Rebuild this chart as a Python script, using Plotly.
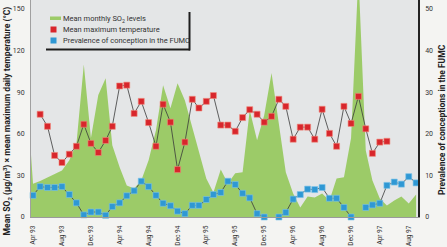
import plotly.graph_objects as go
import pandas as pd

# ---------------- data ----------------
months = pd.date_range("1993-04-01", periods=54, freq="MS")          # Apr 93 .. Sep 97
so2_months = pd.date_range("1993-03-01", periods=55, freq="MS")      # Mar 93 .. Sep 97

so2_levels = [100, 24, 26, 28.6, 31.5, 33.6, 40.9, 53, 110, 57, 88,
              100, 51.7, 35.8, 22.8, 20.6, 26.4, 40.9, 62.5, 95, 78.5,
              96.5, 84, 64.7, 48, 27.8, 17.7, 34.3, 24.2, 31.5, 32.2,
              77, 55.3, 73.4, 103.8, 68.3, 32.2, 17, 6.9, 14.8, 14.1,
              17, 11.9, 27.8, 28.6, 57, 175, 48, 26.4, 13.4, 8.3,
              11.9, 14.8, 9.8, 16.3]

max_temperature = [None, 24.7, 21.8, 14.8, 13.1, 15.1, 17.0, 22.3, 17.7, 15.5,
                   18.4, 21.8, 31.5, 31.7, 24.9, 27.8, 22.7, 17.0, 27.1, 22.8,
                   11.4, 18.0, 28.3, 26.2, 27.8, 29.2, 22.1, 22.1, 20.6, 23.9,
                   25.8, 24.7, 22.8, 24.2, 28.3, 26.6, 18.7, 21.6, 21.6, 18.7,
                   25.9, 20.1, 17.0, 26.6, 22.5, 29.0, 21.2, 15.3, 18.0, 18.2,
                   None, None, None, None]

conception = [5.2, 7.3, 7.1, 7.1, 7.3, 5.4, 3.4, 0.5, 1.2, 1.2,
              0.4, 2.5, 3.4, 5.1, 6.3, 8.6, 7.3, 5.2, 3.3, 2.7,
              1.4, 0.8, 2.8, 2.8, 4.2, 5.4, 5.9, 8.6, 7.8, 5.7,
              4.6, 0.8, 0.0, None, 0.0, 1.1, 4.3, 5.4, 6.7, 6.6,
              7.1, 4.5, 4.5, 2.3, 0.0, None, 2.3, 2.9, 3.3, 7.6,
              8.4, 7.9, 9.7, 8.2]

tick_dates = pd.date_range("1993-04-01", "1997-08-01", freq="4MS")
tick_labels = ["Apr 93", "Aug 93", "Dec 93", "Apr 94", "Aug 94", "Dec 94",
               "Apr 95", "Aug 95", "Dec 95", "Apr 96", "Aug 96", "Dec 96",
               "Apr 97", "Aug 97"]
left_ticks = [0, 30, 60, 90, 120, 150]
right_ticks = [0, 10, 20, 30, 40, 50]

legend_labels = ["Mean monthly SO<sub>2</sub> levels",
                 "Mean maximum temperature",
                 "Prevalence of conception in the FUMC"]

# ---------------- style ----------------
W, H = 447, 247
ML, MR, MT, MB = 31, 29, 0, 30
PW, PH = W - ML - MR, H - MT - MB
GREEN = "#9ccb68"
RED = "#d8262c"
BLUE = "#2f98d4"
LINE = "#3a3a3a"
FONT = "Roboto, Liberation Sans, sans-serif"
YMAX = 156.5


def px(x):
    return (x - ML) / PW


def py(y):
    return (MT + PH - y) / PH


fig = go.Figure()
fig.add_trace(go.Scatter(
    x=so2_months, y=so2_levels, mode="lines", fill="tozeroy",
    line=dict(width=0, color=GREEN), fillcolor=GREEN,
    name=legend_labels[0], showlegend=False, yaxis="y"))
fig.add_trace(go.Scatter(
    x=months, y=max_temperature, mode="lines+markers",
    line=dict(color=LINE, width=0.8),
    marker=dict(symbol="square", size=6, color=RED, line=dict(color="#f28a7a", width=0.6)),
    name=legend_labels[1], showlegend=False, yaxis="y2", cliponaxis=False))
fig.add_trace(go.Scatter(
    x=months, y=conception, mode="lines+markers",
    line=dict(color=LINE, width=0.8),
    marker=dict(symbol="square", size=6, color=BLUE, line=dict(color="#7cc4ea", width=0.6)),
    name=legend_labels[2], showlegend=False, yaxis="y2", cliponaxis=False))

tickfont = dict(family=FONT, size=7, color="#333333")
fig.update_layout(
    width=W, height=H,
    margin=dict(l=ML, r=MR, t=MT, b=MB, pad=0, autoexpand=False),
    paper_bgcolor="#f4f4f2",
    plot_bgcolor="#e4e6e7",
    showlegend=False,
    xaxis=dict(type="date", range=["1993-03-23 12:00", "1997-09-09"],
               tickvals=tick_dates, ticktext=tick_labels, tickangle=-90,
               tickfont=dict(family=FONT, size=6.5, color="#333333"),
               showgrid=False, zeroline=False, showline=True, automargin=False,
               linecolor="#9a9a9a", linewidth=1, ticks="", ticklabelstandoff=5),
    yaxis=dict(range=[0, YMAX], tickvals=left_ticks, tickfont=tickfont,
               showgrid=False, zeroline=False, showline=True, automargin=False,
               linecolor="#a0a0a0", linewidth=1, ticks="", ticklabelstandoff=4),
    yaxis2=dict(range=[0, YMAX / 3], tickvals=right_ticks, tickfont=tickfont,
                overlaying="y", side="right", showgrid=False, zeroline=False,
                showline=True, linecolor="#222222", linewidth=1.5, ticks="",
                automargin=False, ticklabelstandoff=4),
)

shapes = []
annotations = []
# legend symbols
shapes.append(dict(type="rect", xref="paper", yref="paper",
                   x0=px(50), x1=px(61), y0=py(20), y1=py(16.5),
                   fillcolor=GREEN, line=dict(width=0)))
for i, col in enumerate([RED, BLUE]):
    cy = 29.5 + 11 * i
    shapes.append(dict(type="rect", xref="paper", yref="paper",
                       x0=px(50.5), x1=px(56.5), y0=py(cy + 3), y1=py(cy - 3),
                       fillcolor=col, line=dict(width=0)))
# legend shadow border
shapes.append(dict(type="line", xref="paper", yref="paper",
                   x0=px(46), x1=px(190), y0=py(49.5), y1=py(49.5),
                   line=dict(color="#1e1e1e", width=2)))
shapes.append(dict(type="line", xref="paper", yref="paper",
                   x0=px(189.5), x1=px(189.5), y0=py(12), y1=py(50.5),
                   line=dict(color="#1e1e1e", width=2)))
for i, lab in enumerate(legend_labels):
    annotations.append(dict(text=lab, xref="paper", yref="paper",
                            x=px(61), y=py(18.5 + 11 * i), xanchor="left", yanchor="middle",
                            showarrow=False, font=dict(family=FONT, size=7.5, color="#333333")))
# axis titles
annotations.append(dict(
    text="<b>Mean SO<sub>2</sub> (µg/m<sup>3</sup>) × mean maximum daily temperature (°C)</b>",
    xref="paper", yref="paper", x=px(7.5), y=py(121), xanchor="center", yanchor="middle",
    textangle=-90, showarrow=False, font=dict(family=FONT, size=8.6, color="#222222")))
annotations.append(dict(
    text="<b>Prevalence of conceptions in the FUMC</b>",
    xref="paper", yref="paper", x=px(442), y=py(120), xanchor="center", yanchor="middle",
    textangle=-90, showarrow=False, font=dict(family=FONT, size=8.5, color="#222222")))

fig.update_layout(shapes=shapes, annotations=annotations)
fig.write_html("out.html", config={"displayModeBar": False},
               post_script="document.body.style.margin='0px';")
